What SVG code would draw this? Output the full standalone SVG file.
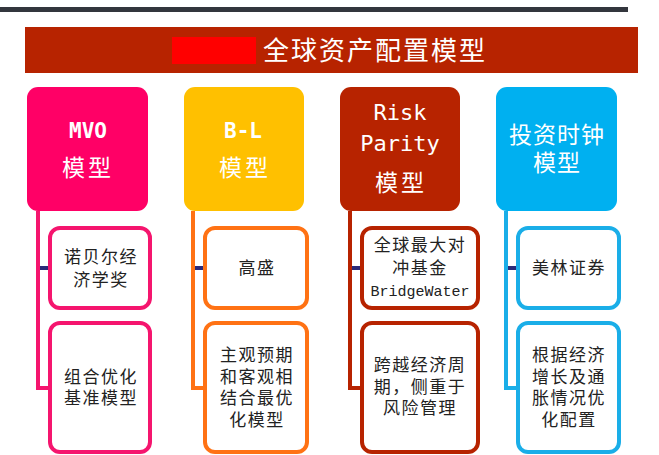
<svg xmlns="http://www.w3.org/2000/svg" width="659" height="455" viewBox="0 0 659 455">
<style>
.hd{fill:#fff;font-family:"Noto Sans CJK SC",sans-serif;text-anchor:middle}
.en{fill:#fff;font-family:"DejaVu Sans Mono","Liberation Mono",monospace;text-anchor:middle}
.tx{fill:#222;font-family:"Noto Sans CJK SC",sans-serif;font-size:17px;letter-spacing:1.5px;text-anchor:middle}
.mono{font-family:"Liberation Mono","DejaVu Sans Mono",monospace;font-size:15px;letter-spacing:0}
.cb{fill:#fff;stroke-width:4}
.trunk{fill:none;stroke-width:4}
.stub{stroke:#2b2a78;stroke-width:4}
</style>
<rect x="0" y="7" width="628" height="5" fill="#33363d"/>
<g id="title">
<rect x="25" y="27" width="613" height="46" fill="#b72300"/>
<rect x="172" y="37" width="84" height="27" fill="#ff0000"/>
<text x="375" y="60" class="hd" font-size="26" letter-spacing="2">全球资产配置模型</text>
</g>
<g id="connectors">
<path class="trunk" stroke="#f5156e" d="M38 211V388H50"/>
<line class="stub" x1="40" y1="268" x2="50" y2="268"/>
<path class="trunk" stroke="#ff7214" d="M193 211V388H205"/>
<line class="stub" x1="195" y1="268" x2="205" y2="268"/>
<path class="trunk" stroke="#b72300" d="M350 211V388H362"/>
<line class="stub" x1="352" y1="268" x2="362" y2="268"/>
<path class="trunk" stroke="#1aaee8" d="M506 211V388H518"/>
<line class="stub" x1="508" y1="268" x2="518" y2="268"/>
</g>
<g id="mvo">
<rect x="27" y="87" width="121" height="124" rx="11" fill="#ff0066"/>
<text x="88" y="138" class="en" font-size="22" font-weight="bold" textLength="38" lengthAdjust="spacingAndGlyphs">MVO</text>
<text x="88" y="176" class="hd" font-size="23" letter-spacing="3">模型</text>
</g>
<g id="bl">
<rect x="184" y="87" width="120" height="124" rx="11" fill="#ffc000"/>
<text x="243" y="138" class="en" font-size="22" font-weight="bold" textLength="38" lengthAdjust="spacingAndGlyphs">B-L</text>
<text x="245" y="176" class="hd" font-size="23" letter-spacing="3">模型</text>
</g>
<g id="rp">
<rect x="340" y="87" width="120" height="124" rx="11" fill="#b72300"/>
<text class="en" font-size="22"><tspan x="400" y="120">Risk</tspan><tspan x="400" y="151">Parity</tspan></text>
<text x="401" y="191" class="hd" font-size="23" letter-spacing="3">模型</text>
</g>
<g id="clock">
<rect x="496" y="87" width="121" height="124" rx="11" fill="#00b0f0"/>
<text class="hd" font-size="23" letter-spacing="1"><tspan x="557" y="143">投资时钟</tspan><tspan x="557" y="171">模型</tspan></text>
</g>
<g id="mvo1">
<rect x="50" y="228" width="100" height="80" rx="10" class="cb" stroke="#f5156e"/>
<text class="tx"><tspan x="101" y="263">诺贝尔经</tspan><tspan x="101" y="286">济学奖</tspan></text>
</g>
<g id="mvo2">
<rect x="50" y="323" width="100" height="129" rx="10" class="cb" stroke="#f5156e"/>
<text class="tx"><tspan x="101" y="383">组合优化</tspan><tspan x="101" y="404">基准模型</tspan></text>
</g>
<g id="bl1">
<rect x="205" y="228" width="102" height="80" rx="10" class="cb" stroke="#ff7214"/>
<text x="257" y="274" class="tx">高盛</text>
</g>
<g id="bl2">
<rect x="205" y="323" width="102" height="129" rx="10" class="cb" stroke="#ff7214"/>
<text class="tx"><tspan x="257" y="361">主观预期</tspan><tspan x="257" y="383">和客观相</tspan><tspan x="257" y="404">结合最优</tspan><tspan x="257" y="426">化模型</tspan></text>
</g>
<g id="rp1">
<rect x="362" y="228" width="116" height="80" rx="10" class="cb" stroke="#b72300"/>
<text class="tx"><tspan x="420" y="251">全球最大对</tspan><tspan x="420" y="274">冲基金</tspan><tspan x="420" y="296" class="mono">BridgeWater</tspan></text>
</g>
<g id="rp2">
<rect x="362" y="323" width="116" height="129" rx="10" class="cb" stroke="#b72300"/>
<text class="tx"><tspan x="420" y="371">跨越经济周</tspan><tspan x="420" y="393">期，侧重于</tspan><tspan x="420" y="414">风险管理</tspan></text>
</g>
<g id="clock1">
<rect x="518" y="228" width="101" height="80" rx="10" class="cb" stroke="#1aaee8"/>
<text x="569" y="274" class="tx">美林证券</text>
</g>
<g id="clock2">
<rect x="518" y="323" width="101" height="129" rx="10" class="cb" stroke="#1aaee8"/>
<text class="tx"><tspan x="569" y="361">根据经济</tspan><tspan x="569" y="383">增长及通</tspan><tspan x="569" y="404">胀情况优</tspan><tspan x="569" y="426">化配置</tspan></text>
</g>
</svg>
